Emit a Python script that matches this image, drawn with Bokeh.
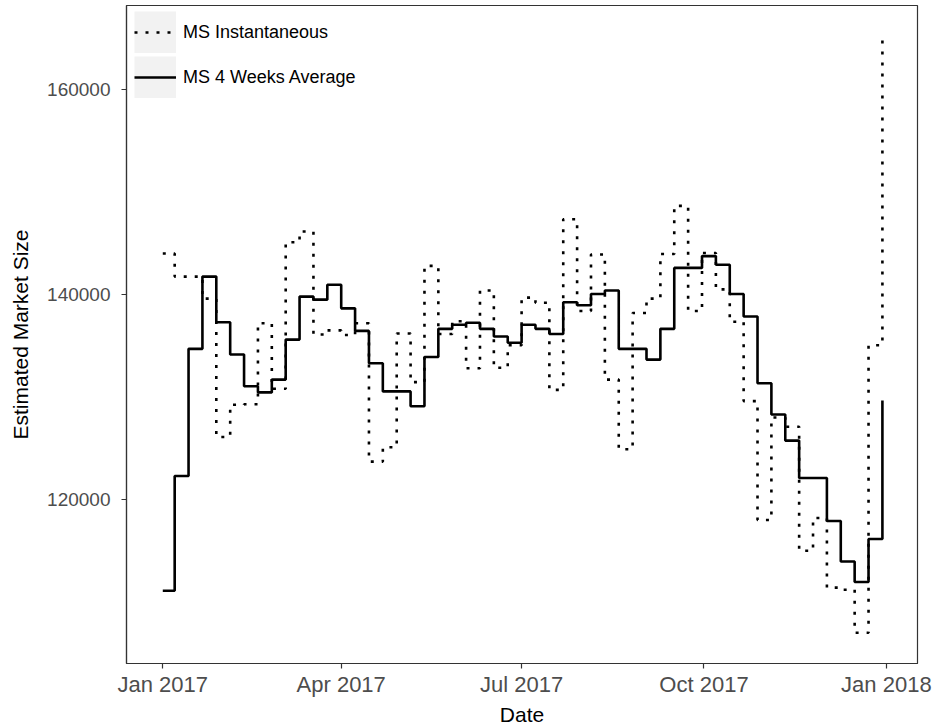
import pandas as pd
from bokeh.plotting import figure
from bokeh.models import (Range1d, FixedTicker, DatetimeTickFormatter, Legend,
                          LegendItem, ColumnDataSource, BasicTickFormatter)
from bokeh.embed import file_html
from bokeh.resources import INLINE

# ---- data -------------------------------------------------------------
first_date = "2017-01-01"
weekly_start = "2017-01-07"
n_weekly = 52
dates = [pd.Timestamp(first_date)] + list(pd.date_range(weekly_start, periods=n_weekly, freq="7D"))

ms_instantaneous = [
    144000, 141750, 141750, 139600, 126100, 129250, 129300, 137200, 130800, 145100,
    146150, 136100, 136500, 136050, 137200, 123700, 125100, 136200, 131450, 142800,
    136150, 137400, 132800, 140400, 132850, 135050, 139700, 139200, 130700, 147350,
    138400, 143900, 131700, 124900, 138200, 139600, 143950, 148650, 138400, 144050,
    140500, 137350, 129600, 118000, 128000, 127100, 115000, 118200, 111400, 111200,
    107000, 135050, 165300,
]
ms_4weeks_avg = [
    111100, 122300, 134700, 141750, 137300, 134150, 131050, 130450, 131700, 135600,
    139800, 139500, 140950, 138650, 136450, 133300, 130550, 130550, 129100, 133900,
    136650, 137050, 137250, 136650, 135900, 135300, 137050, 136650, 136150, 139250,
    138950, 140050, 140400, 134700, 134700, 133650, 136650, 142600, 142600, 143750,
    142900, 140050, 137850, 131350, 128300, 125750, 122100, 122100, 117900, 113950,
    111950, 116150, 129650,
]

x_tick_dates = ["2017-01-01", "2017-04-01", "2017-07-01", "2017-10-01", "2018-01-01"]
y_ticks = [120000, 140000, 160000]

series_labels = ["MS Instantaneous", "MS 4 Weeks Average"]
x_title = "Date"
y_title = "Estimated Market Size"

source = ColumnDataSource(dict(date=dates, inst=ms_instantaneous, avg=ms_4weeks_avg))

# ---- figure -----------------------------------------------------------
FRAME_H = 658
base = pd.Timestamp(first_date)
x_range = Range1d(start=base - pd.Timedelta(days=18.3), end=base + pd.Timedelta(days=380.7))
y_range = Range1d(start=104000, end=168200)

p = figure(width=935, height=728, x_axis_type="datetime", x_range=x_range, y_range=y_range,
           output_backend="svg", toolbar_location=None,
           min_border_left=126, min_border_right=18, min_border_top=5, min_border_bottom=65)

p.background_fill_color = "white"
p.border_fill_color = "white"
p.outline_line_color = "#333333"
p.outline_line_width = 1.2
p.xgrid.visible = False
p.ygrid.visible = False

FONT = "Liberation Sans"

r_inst = p.step(x="date", y="inst", source=source, mode="after", line_color="black",
                line_width=2.6, line_dash="3 8")
r_avg = p.step(x="date", y="avg", source=source, mode="after", line_color="black",
               line_width=2.6)

# legend key background: a zero-length thick line (invisible in the plot) whose
# legend swatch paints the light grey key square
key_src = ColumnDataSource(dict(date=[dates[0], dates[0]], v=[ms_4weeks_avg[0], ms_4weeks_avg[0]]))
key_bg = p.line(x="date", y="v", source=key_src, line_color="#F2F2F2", line_width=42,
                line_cap="butt")

legend = Legend(items=[LegendItem(label=series_labels[0], renderers=[key_bg, r_inst]),
                       LegendItem(label=series_labels[1], renderers=[key_bg, r_avg])],
                location=(8, FRAME_H - 6 - 87))
legend.margin = 0
legend.padding = 0
legend.spacing = 3
legend.glyph_width = 42
legend.glyph_height = 42
legend.label_height = 42
legend.label_standoff = 7
legend.border_line_color = None
legend.background_fill_alpha = 0
legend.label_text_font = FONT
legend.label_text_font_size = "18px"
legend.label_text_color = "black"
p.add_layout(legend, "center")

# axes
xticks_ms = [pd.Timestamp(d).value // 10**6 for d in x_tick_dates]
p.xaxis.ticker = FixedTicker(ticks=xticks_ms)
fmt = "%b %Y"
p.xaxis.formatter = DatetimeTickFormatter(milliseconds=fmt, seconds=fmt, minsec=fmt, minutes=fmt,
                                          hourmin=fmt, hours=fmt, days=fmt, months=fmt, years=fmt)
p.yaxis.ticker = FixedTicker(ticks=y_ticks)
p.yaxis.formatter = BasicTickFormatter(use_scientific=False)

p.xaxis.axis_label = x_title
p.yaxis.axis_label = y_title

for ax in (p.xaxis, p.yaxis):
    ax.axis_line_color = "#333333"
    ax.axis_line_width = 1.2
    ax.major_tick_line_color = "#333333"
    ax.major_tick_line_width = 1.2
    ax.major_tick_out = 5
    ax.major_tick_in = 0
    ax.minor_tick_line_color = None
    ax.major_label_text_font = FONT
    ax.major_label_text_color = "#4D4D4D"
    ax.axis_label_text_font = FONT
    ax.axis_label_text_font_size = "21px"
    ax.axis_label_text_font_style = "normal"
    ax.axis_label_text_color = "black"

p.xaxis.major_label_text_font_size = "22px"
p.yaxis.major_label_text_font_size = "19px"
p.xaxis.major_label_standoff = 3
p.xaxis.axis_label_standoff = 3
p.yaxis.major_label_standoff = 11
p.yaxis.axis_label_standoff = 12

open("out.html", "w").write(file_html(p, INLINE))
